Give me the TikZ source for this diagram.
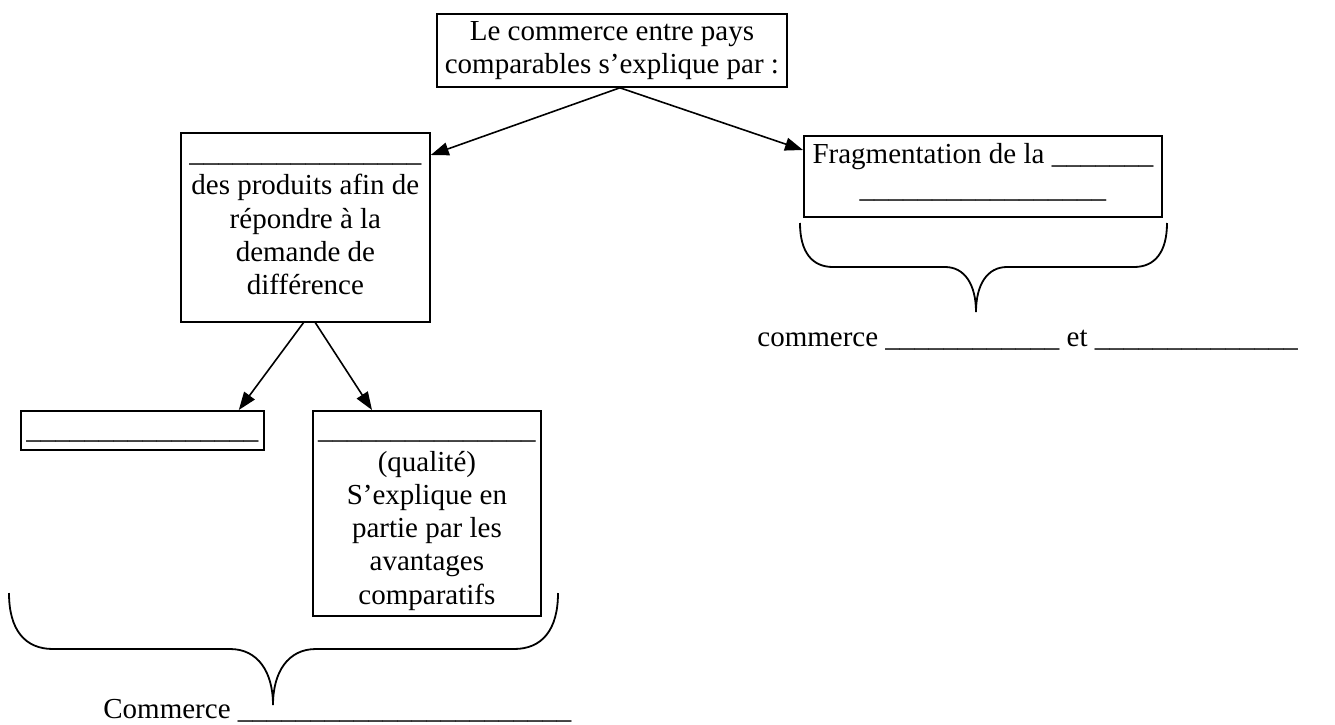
\documentclass[tikz,border=0pt]{standalone}
\usepackage{fontspec}
\setmainfont{Liberation Serif}
\usetikzlibrary{arrows.meta}

% box with text set from the top: width, height, top pad, text
\newcommand{\boite}[4]{\begin{minipage}[t][#2][t]{#1}\centering\vspace*{#3}\strut #4\end{minipage}}
% a row of blanks
\newcommand{\tirets}[1]{\foreach \k in {1,...,#1}{\_}}

\begin{document}
\begin{tikzpicture}[x=0.5pt, y=-0.5pt,
	font=\fontsize{14.5pt}{16.6pt}\selectfont,
	cadre/.style={draw, line width=0.9pt, inner sep=0pt, anchor=north west},
	texte/.style={inner sep=0pt, anchor=base west},
	fleche/.style={-{Triangle[length=9pt,width=6.5pt]}, line width=0.8pt},
	accolade/.style={line width=0.9pt}]
				\useasboundingbox (0,0) rectangle (1335,724);
				
				% Boxes
				\node[cadre] (titre) at (436,13) {\boite{175pt}{36.5pt}{1.8pt}{Le commerce entre pays\\comparables s'explique par :}};
				
				\node[cadre] (diff) at (180,132) {\boite{124.5pt}{94.5pt}{2.8pt}{\tirets{16}\\des produits afin de\\répondre à la\\demande de\\différence}};
				\node[cadre] (frag) at (803,135) {\boite{179pt}{40.5pt}{2.4pt}{Fragmentation de la \tirets{7}\\\tirets{17}}};
				
				\node[cadre] (vide) at (20,410) {\boite{121.5pt}{19.5pt}{2pt}{\tirets{16}}};
				\node[cadre] (qual) at (312,410) {\boite{114pt}{102.5pt}{2pt}{\tirets{15}\\(qualité)\\S'explique en\\partie par les\\avantages\\comparatifs}};
				
				% Arrows
				\draw[fleche] ([xshift=4pt]titre.south) -- ([yshift=-11.5pt]diff.north east);
				\draw[fleche] ([xshift=4pt]titre.south) -- ([yshift=-7.5pt]frag.north west);
				\draw[fleche] ([xshift=-1pt]diff.south) -- ([xshift=-13pt]vide.north east);
				\draw[fleche] ([xshift=5pt]diff.south) -- ([xshift=30pt]qual.north west);
				
				% Braces
				\draw[accolade] (800,223) .. controls (800,252) and (812,267) .. (833,267) -- (945,267)
					.. controls (965,267) and (976,285) .. (976,312)
					.. controls (976,285) and (987,267) .. (1007,267) -- (1134,267)
					.. controls (1155,267) and (1167,252) .. (1167,223);
				\draw[accolade] (9,593) .. controls (9,630) and (25,649) .. (53,649) -- (230,649)
					.. controls (258,649) and (273,672) .. (273,705)
					.. controls (273,672) and (288,649) .. (316,649) -- (514,649)
					.. controls (542,649) and (558,630) .. (558,593);
				
				% Text under the braces
				\node[texte] (commd) at (757,346) {commerce \tirets{12} et \tirets{14}};
				\node[texte] (commg) at (103,718) {Commerce \tirets{23}};
			\end{tikzpicture}
\end{document}
